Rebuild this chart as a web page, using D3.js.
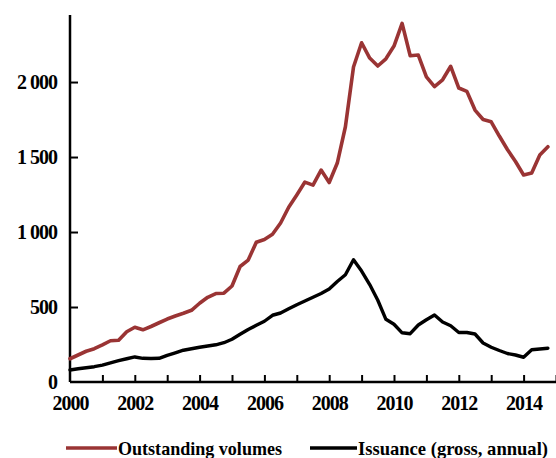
<!DOCTYPE html>
<html>
<head>
<meta charset="utf-8">
<script src="https://cdn.jsdelivr.net/npm/d3@7"></script>
<style>
  html, body { margin: 0; padding: 0; background: #fff; }
  svg { display: block; }
  text { font-family: "Liberation Serif", "Times New Roman", serif; font-weight: bold; fill: #000; }
</style>
</head>
<body>
<svg id="chart" width="556" height="458"></svg>
<script>
// Quarterly observations, 2000 Q1 .. 2014 Q4 (time in decimal years)
const startYear = 2000;
const stepYears = 0.25;
const outstanding = [
  155, 180, 205, 222, 247, 275, 278, 335, 365, 348, 370, 395,
  420, 440, 458, 478, 525, 565, 590, 592, 640, 770, 813, 932,
  950, 985, 1060, 1165, 1247, 1333, 1313, 1413, 1330, 1460, 1702, 2100,
  2262, 2160, 2107, 2155, 2240, 2391, 2175, 2180, 2035, 1970, 2015, 2105,
  1960, 1938, 1813, 1750, 1735, 1640, 1550, 1470, 1380, 1393, 1513, 1569
];
const issuance = [
  80, 88, 95, 102, 113, 128, 142, 155, 167, 158, 157, 158,
  178, 195, 212, 222, 232, 240, 248, 262, 285, 318, 350, 378,
  405, 445, 460, 488, 515, 540, 565, 590, 620, 670, 715, 815,
  740, 650, 545, 418, 385, 328, 322, 380, 415, 447, 400, 375,
  330, 330, 320, 260, 232, 210, 190, 180, 165, 215, 220, 225
];
const yTicks = [0, 500, 1000, 1500, 2000];
const xTickYears = d3.range(2000, 2016);
const xLabelYears = [2000, 2002, 2004, 2006, 2008, 2010, 2012, 2014];
const seriesNames = ["Outstanding volumes", "Issuance (gross, annual)"];
const seriesColors = ["#9a3434", "#000000"];

(function () {
const svg = d3.select("#chart");
const mLeft = 70, mRight = 556, mTop = 15, mBottom = 382;

const x = d3.scaleLinear().domain([2000, 2015]).range([mLeft, mRight]);
const y = d3.scaleLinear().domain([0, 2447]).range([mBottom, mTop]);

const fmt = v => d3.format(",")(v).replace(/,/g, " ");

// Y axis
const yAxis = d3.axisLeft(y).tickValues(yTicks).tickSize(-8).tickPadding(13).tickFormat(fmt);
const gy = svg.append("g").attr("transform", `translate(${mLeft},0)`).call(yAxis);
gy.select(".domain").attr("stroke", "#000").attr("stroke-width", 2.5).attr("d", `M0,${mTop}V${mBottom}`);
gy.selectAll(".tick line").attr("stroke", "#000").attr("stroke-width", 2);
gy.selectAll(".tick text").attr("font-size", 20).attr("letter-spacing", "-1px")
  .attr("font-family", "Liberation Serif, serif").attr("font-weight", "bold").attr("fill", "#000");
gy.selectAll(".tick").filter(d => d === 0).select("line").remove();

// X axis
const xAxis = d3.axisBottom(x).tickValues(xTickYears).tickSize(-7).tickPadding(14)
  .tickFormat(d => xLabelYears.includes(d) ? String(d) : "");
const gx = svg.append("g").attr("transform", `translate(0,${mBottom})`).call(xAxis);
gx.select(".domain").attr("stroke", "#000").attr("stroke-width", 2.5).attr("d", `M${mLeft},0H${mRight}`);
gx.selectAll(".tick line").attr("stroke", "#000").attr("stroke-width", 2);
gx.selectAll(".tick").filter(d => d === 2000).select("line").remove();
gx.selectAll(".tick text").attr("font-size", 20).attr("letter-spacing", "-1px")
  .attr("font-family", "Liberation Serif, serif").attr("font-weight", "bold").attr("fill", "#000")
  .attr("dy", "0.72em");

// Lines
const line = d3.line().x((d, i) => x(startYear + i * stepYears)).y(d => y(d));
[outstanding, issuance].forEach((s, k) => {
  svg.append("path").datum(s).attr("d", line)
    .attr("fill", "none").attr("stroke", seriesColors[k])
    .attr("stroke-width", k === 0 ? 3.6 : 3.4)
    .attr("stroke-linejoin", "round").attr("stroke-linecap", "round");
});

// Legend
const legendItems = [
  { x0: 66, x1: 117, tx: 118, tw: 164 },
  { x0: 310, x1: 357, tx: 358, tw: 190 }
];
legendItems.forEach((it, k) => {
  svg.append("line").attr("x1", it.x0).attr("x2", it.x1).attr("y1", 448).attr("y2", 448)
    .attr("stroke", seriesColors[k]).attr("stroke-width", 3.6);
  svg.append("text").attr("x", it.tx).attr("y", 455).attr("font-size", 19)
    .attr("textLength", it.tw).attr("lengthAdjust", "spacingAndGlyphs")
    .text(seriesNames[k]);
});
})();
</script>
</body>
</html>
